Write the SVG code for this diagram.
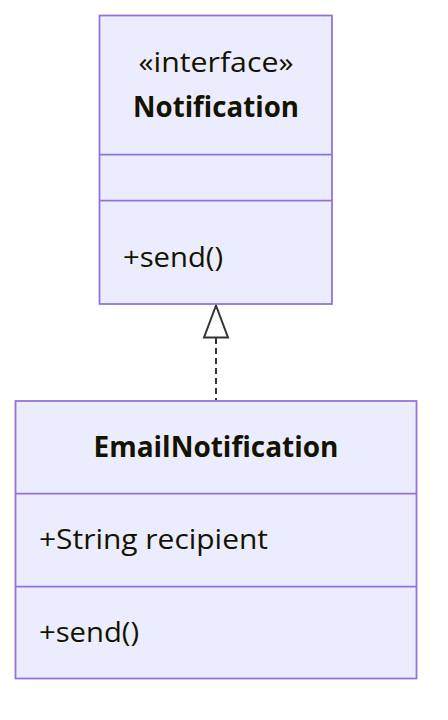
<svg xmlns="http://www.w3.org/2000/svg" width="448" height="720" viewBox="0 0 448 720">
<style>
.box{fill:#ECECFF;stroke:#9370DB;stroke-width:1.75}
.div{stroke:#9370DB;stroke-width:1.75}
.t{font-family:"Open Sans","Noto Sans","DejaVu Sans",sans-serif;font-size:28px;fill:#131300}
.b{font-weight:bold}
.c{text-anchor:middle}
.edge{stroke:#333333;stroke-width:2;fill:none;stroke-dasharray:6 4}
.head{fill:#FFFFFF;stroke:#333333;stroke-width:2}
</style>
<rect width="448" height="720" fill="#FFFFFF"/>
<g id="connectors">
<line class="edge" x1="216" y1="338" x2="216" y2="400"/>
<polygon class="head" points="216,305.5 204,337.5 228,337.5"/>
</g>
<g id="Notification">
<rect class="box" x="99.5" y="15.5" width="232.5" height="288.5"/>
<line class="div" x1="99.5" y1="154.5" x2="332" y2="154.5"/>
<line class="div" x1="99.5" y1="200.5" x2="332" y2="200.5"/>
<text class="t c" x="216" y="72" textLength="155" lengthAdjust="spacingAndGlyphs">«interface»</text>
<text class="t b c" x="216" y="117" textLength="166" lengthAdjust="spacingAndGlyphs">Notification</text>
<text class="t" x="123" y="267" textLength="100" lengthAdjust="spacingAndGlyphs">+send()</text>
</g>
<g id="EmailNotification">
<rect class="box" x="15.5" y="401" width="401" height="277.5"/>
<line class="div" x1="15.5" y1="493.5" x2="416.5" y2="493.5"/>
<line class="div" x1="15.5" y1="586.5" x2="416.5" y2="586.5"/>
<text class="t b c" x="216" y="457" textLength="245" lengthAdjust="spacingAndGlyphs">EmailNotification</text>
<text class="t" x="39" y="548.5" textLength="229" lengthAdjust="spacingAndGlyphs">+String recipient</text>
<text class="t" x="39" y="641.5" textLength="100" lengthAdjust="spacingAndGlyphs">+send()</text>
</g>
</svg>
